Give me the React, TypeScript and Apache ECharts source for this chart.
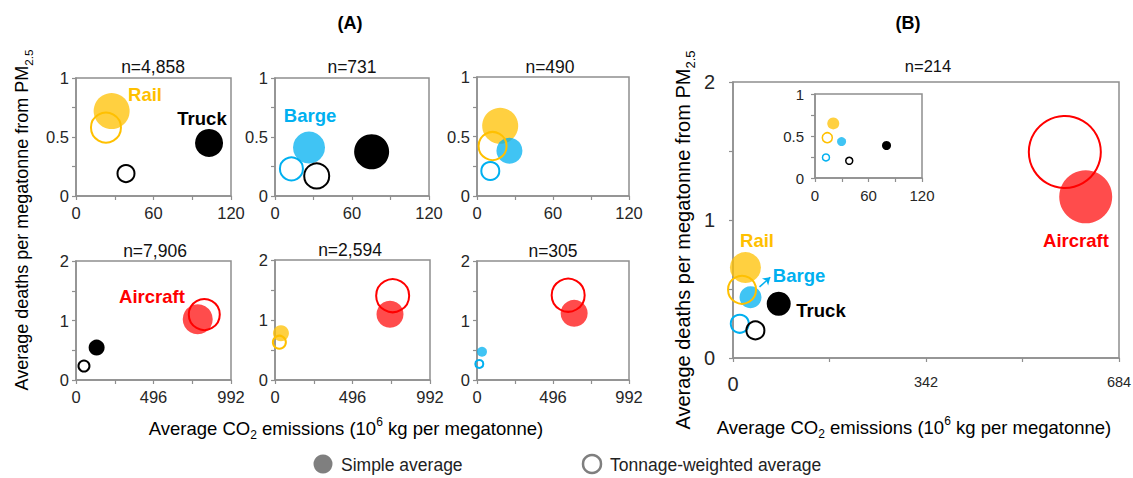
import React, { useEffect, useRef } from "react";
import * as echarts from "echarts";

const FONT = "'Liberation Sans', Arial, Helvetica, sans-serif";

// ---------- data ----------
// each point: [mode, average CO2 emissions, average deaths, bubble size]
const panelTitles = ["n=4,858", "n=731", "n=490", "n=7,906", "n=2,594", "n=305", "n=214", ""];

const a1Simple = [["Rail", 27.6, 0.72, 36], ["Truck", 103, 0.45, 28]];
const a1Weighted = [["Rail", 23.2, 0.58, 30], ["Truck", 38.7, 0.19, 17]];
const a2Simple = [["Barge", 26.5, 0.41, 32], ["Truck", 75.3, 0.375, 35]];
const a2Weighted = [["Barge", 12.8, 0.23, 23], ["Truck", 32.5, 0.17, 25]];
const a3Simple = [["Rail", 18.3, 0.59, 36], ["Barge", 25.6, 0.38, 26]];
const a3Weighted = [["Rail", 12.3, 0.42, 28], ["Barge", 10.5, 0.21, 18]];
const a4Simple = [["Aircraft", 779, 1.02, 30], ["Truck", 132, 0.545, 16]];
const a4Weighted = [["Aircraft", 821, 1.1, 31], ["Truck", 51, 0.235, 11]];
const a5Simple = [["Aircraft", 736, 1.095, 27], ["Rail", 38, 0.78, 16]];
const a5Weighted = [["Aircraft", 753, 1.405, 33], ["Rail", 28, 0.63, 13]];
const a6Simple = [["Aircraft", 634, 1.12, 27], ["Barge", 32.5, 0.475, 10]];
const a6Weighted = [["Aircraft", 595, 1.425, 33], ["Barge", 15, 0.27, 8]];
const bSimple = [["Aircraft", 625, 1.168, 53], ["Rail", 22, 0.655, 31], ["Barge", 31, 0.44, 22], ["Truck", 81, 0.393, 24]];
const bWeighted = [["Aircraft", 588, 1.493, 72], ["Rail", 16, 0.494, 28], ["Barge", 12, 0.248, 18], ["Truck", 39.7, 0.2, 18]];
const insetSimple = [["Rail", 20.5, 0.65, 12], ["Barge", 29.8, 0.434, 9], ["Truck", 80.2, 0.387, 9]];
const insetWeighted = [["Rail", 13.8, 0.48, 10], ["Barge", 12.3, 0.245, 7], ["Truck", 38.4, 0.205, 7]];

const xMax = [120, 120, 120, 992, 992, 992, 684, 120];
const xTickStep = [30, 30, 30, 248, 248, 248, 171, 30];
const xLabelStep = [60, 60, 60, 496, 496, 496, 342, 60];
const yMax = [1, 1, 1, 2, 2, 2, 2, 1];
const yTickStep = [0.25, 0.25, 0.25, 0.5, 0.5, 0.5, 0.5, 0.25];
const yLabelStep = [0.5, 0.5, 0.5, 1, 1, 1, 1, 0.5];

const panelsSimple = [a1Simple, a2Simple, a3Simple, a4Simple, a5Simple, a6Simple, bSimple, insetSimple];
const panelsWeighted = [a1Weighted, a2Weighted, a3Weighted, a4Weighted, a5Weighted, a6Weighted, bWeighted, insetWeighted];

// ---------- layout / style ----------
const gridBoxes = [
  [76, 78, 155, 118],
  [275, 78, 154, 118],
  [477, 77, 152, 119],
  [76, 261, 155, 119],
  [275, 260, 155, 120],
  [477, 261, 152, 119],
  [733, 82, 386, 276],
  [815, 94, 107, 84],
];
const titlePos = [
  [153, 67], [352, 67], [550, 67], [155, 251], [350, 250], [553, 251], [928, 66],
];

const modeColor: Record<string, string> = {
  Rail: "#FFC000",
  Barge: "#00B0F0",
  Truck: "#000000",
  Aircraft: "#FF0000",
};
const filledOpacity: Record<string, number> = { Rail: 0.75, Barge: 0.75, Truck: 1, Aircraft: 0.7 };

const AXIS_COLOR = "#8f8f8f";
const TEXT_COLOR = "#262626";

const isStep = (v: number, step: number) => Math.abs(v / step - Math.round(v / step)) < 1e-6;
const fmt = (step: number) => (v: number) => (isStep(v, step) ? String(Math.round(v * 1000) / 1000) : "");

function buildOption() {
  const grid = gridBoxes.map(([l, t, w, h], i) => ({
    left: l,
    top: t,
    width: w,
    height: h,
    show: true,
    borderColor: AXIS_COLOR,
    borderWidth: 1.5,
    backgroundColor: i === 7 ? "#ffffff" : "transparent",
    outerBoundsMode: "none",
  }));

  const axisCommon = {
    type: "value",
    axisLine: { show: true, onZero: false, lineStyle: { color: AXIS_COLOR, width: 1.5 } },
    axisTick: { show: true, inside: false, length: 4, lineStyle: { color: AXIS_COLOR, width: 1.2 } },
    splitLine: { show: false },
  };

  const xAxis = gridBoxes.map((_, i) => {
    const isB = i === 6;
    const isInset = i === 7;
    return {
      ...axisCommon,
      gridIndex: i,
      min: 0,
      max: xMax[i],
      interval: xTickStep[i],
      axisLabel: isB
        ? {
            showMinLabel: true,
            showMaxLabel: true,
            margin: 16,
            color: TEXT_COLOR,
            fontFamily: FONT,
            formatter: (v: number) =>
              !isStep(v, xLabelStep[i]) ? "" : v === 0 ? "{big|0}" : `{sm|${v}}`,
            rich: {
              big: { fontSize: 20, fontFamily: FONT, color: TEXT_COLOR },
              sm: { fontSize: 14.5, fontFamily: FONT, color: TEXT_COLOR },
            },
          }
        : {
            showMinLabel: true,
            showMaxLabel: true,
            margin: isInset ? 10 : 8,
            fontSize: isInset ? 15 : 16.5,
            color: TEXT_COLOR,
            fontFamily: FONT,
            formatter: fmt(xLabelStep[i]),
          },
    };
  });

  const yAxis = gridBoxes.map((_, i) => {
    const isB = i === 6;
    const isInset = i === 7;
    return {
      ...axisCommon,
      gridIndex: i,
      min: 0,
      max: yMax[i],
      interval: yTickStep[i],
      axisLabel: {
        showMinLabel: true,
        showMaxLabel: true,
        margin: isB ? 18 : isInset ? 11 : 7,
        fontSize: isB ? 20 : isInset ? 15 : 16.5,
        color: TEXT_COLOR,
        fontFamily: FONT,
        formatter: fmt(yLabelStep[i]),
      },
    };
  });

  const series: any[] = [];
  gridBoxes.forEach((_, i) => {
    const hollowWidth = i === 7 ? 1.5 : 2;
    series.push({
      type: "scatter",
      name: "Simple average",
      xAxisIndex: i,
      yAxisIndex: i,
      z: 2,
      silent: true,
      symbol: "circle",
      symbolSize: (v: number[]) => v[2],
      data: panelsSimple[i].map(([m, x, y, b]) => ({
        value: [x, y, b],
        itemStyle: { color: modeColor[m as string], opacity: filledOpacity[m as string] },
      })),
      ...(i === 6
        ? {
            markLine: {
              silent: true,
              symbol: ["none", "arrow"],
              symbolSize: 7,
              label: { show: false },
              lineStyle: { color: "#00B0F0", width: 1.5, type: "solid" },
              data: [[{ coord: [47, 0.515] }, { coord: [66, 0.585] }]],
            },
          }
        : {}),
    });
    series.push({
      type: "scatter",
      name: "Tonnage-weighted average",
      xAxisIndex: i,
      yAxisIndex: i,
      z: 3,
      silent: true,
      symbol: "circle",
      symbolSize: (v: number[]) => v[2],
      data: panelsWeighted[i].map(([m, x, y, b]) => ({
        value: [x, y, b],
        itemStyle: {
          color: "rgba(255,255,255,0)",
          borderColor: modeColor[m as string],
          borderWidth: hollowWidth,
          opacity: 1,
        },
      })),
    });
  });

  const txt = (x: number, y: number, text: string, opts: any = {}) => ({
    type: "text",
    x,
    y,
    rotation: opts.rotation || 0,
    z: 100,
    silent: true,
    style: {
      text,
      fill: opts.fill || "#000",
      fontSize: opts.fontSize || 16,
      fontWeight: opts.fontWeight || "normal",
      fontFamily: FONT,
      align: opts.align || "center",
      verticalAlign: "middle",
      textAlign: opts.align || "center",
      textVerticalAlign: "middle",
      rich: opts.rich,
    },
  });

  const subRich = (base: number) => ({
    sub: { fontSize: base * 0.65, fontFamily: FONT, fill: "#000", lineHeight: base * 0.65, verticalAlign: "bottom" },
    sup: { fontSize: base * 0.65, fontFamily: FONT, fill: "#000", lineHeight: base * 0.65, verticalAlign: "top" },
    n: { fontSize: base, fontFamily: FONT, fill: "#000", lineHeight: base * 1.35 },
  });

  const xTitle = "{n|Average CO}{sub|2}{n| emissions (10}{sup|6}{n| kg per megatonne)}";
  const yTitle = "{n|Average deaths per megatonne from PM}{sub|2.5}";

  const graphic: any[] = [
    txt(350, 23, "(A)", { fontSize: 18, fontWeight: "bold" }),
    txt(908, 23, "(B)", { fontSize: 18, fontWeight: "bold" }),
    ...titlePos.map(([x, y], i) => txt(x, y, panelTitles[i], { fontSize: i === 6 ? 16.5 : 17.5, fill: "#111" })),
    // mode labels
    txt(145, 94, "Rail", { fontSize: 18.5, fontWeight: "bold", fill: modeColor.Rail }),
    txt(202, 118, "Truck", { fontSize: 18.5, fontWeight: "bold", fill: modeColor.Truck }),
    txt(310, 115, "Barge", { fontSize: 18.5, fontWeight: "bold", fill: modeColor.Barge }),
    txt(152, 296, "Aircraft", { fontSize: 18.5, fontWeight: "bold", fill: modeColor.Aircraft }),
    txt(757, 240, "Rail", { fontSize: 18.5, fontWeight: "bold", fill: modeColor.Rail }),
    txt(799, 275, "Barge", { fontSize: 18.5, fontWeight: "bold", fill: modeColor.Barge }),
    txt(821, 310, "Truck", { fontSize: 18.5, fontWeight: "bold", fill: modeColor.Truck }),
    txt(1076, 240, "Aircraft", { fontSize: 18.5, fontWeight: "bold", fill: modeColor.Aircraft }),
    // axis titles
    txt(346, 428, xTitle, { rich: subRich(18.5) }),
    txt(914, 427, xTitle, { rich: subRich(18.5) }),
    txt(22, 220, yTitle, { rotation: Math.PI / 2, rich: subRich(18) }),
    txt(683, 240, yTitle, { rotation: Math.PI / 2, rich: subRich(20) }),
    // legend
    { type: "circle", shape: { cx: 323, cy: 464, r: 9.5 }, style: { fill: "#7f7f7f" }, silent: true, z: 100 },
    txt(341, 465, "Simple average", { fontSize: 17.5, align: "left", fill: "#222" }),
    {
      type: "circle",
      shape: { cx: 592, cy: 464, r: 9 },
      style: { fill: "none", stroke: "#7f7f7f", lineWidth: 2.5 },
      silent: true,
      z: 100,
    },
    txt(610, 465, "Tonnage-weighted average", { fontSize: 17.5, align: "left", fill: "#222" }),
  ];

  return {
    animation: false,
    backgroundColor: "#ffffff",
    textStyle: { fontFamily: FONT },
    grid,
    xAxis,
    yAxis,
    series,
    graphic,
  };
}

export default function App() {
  const ref = useRef<HTMLDivElement>(null);
  useEffect(() => {
    if (!ref.current) return;
    const chart = echarts.init(ref.current, undefined, { renderer: "svg" });
    chart.setOption(buildOption() as any);
    return () => chart.dispose();
  }, []);
  return (
    <div
      ref={ref}
      style={{ position: "absolute", left: 0, top: 0, width: 1133, height: 478, background: "#fff" }}
    />
  );
}
